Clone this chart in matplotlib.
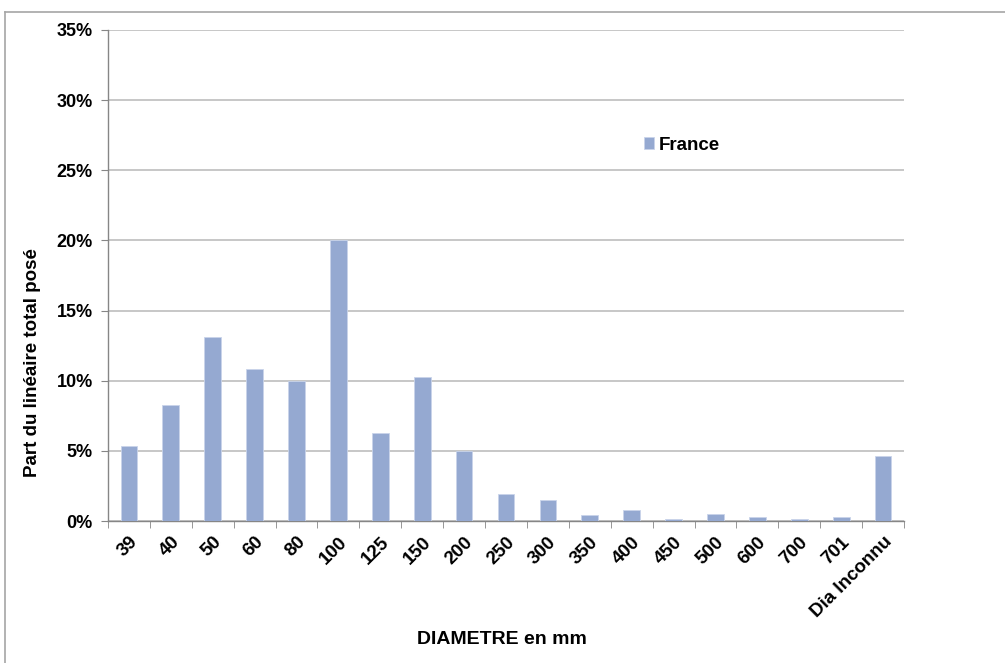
import matplotlib
matplotlib.use("Agg")
import matplotlib.pyplot as plt
from matplotlib.lines import Line2D
from matplotlib.ticker import FixedLocator, FuncFormatter
import numpy as np

categories = ["39", "40", "50", "60", "80", "100", "125", "150", "200", "250",
              "300", "350", "400", "450", "500", "600", "700", "701", "Dia Inconnu"]
france = [5.35, 8.3, 13.1, 10.8, 10.0, 20.0, 6.3, 10.3, 5.0, 1.9,
          1.5, 0.42, 0.76, 0.12, 0.5, 0.25, 0.12, 0.25, 4.62]
y_ticks = [0, 5, 10, 15, 20, 25, 30, 35]

plt.rcParams['font.family'] = ['Liberation Sans', 'DejaVu Sans']

fig = plt.figure(figsize=(10.05, 6.63), dpi=100)
ax = fig.add_axes([108/1005, 1 - 521/663, (904 - 108)/1005, (521 - 30)/663])

x = np.arange(len(categories))
ax.bar(x, france, width=0.4, color='#95a9d1', edgecolor='#c9d4ea', linewidth=0.6,
       label='France', zorder=3)

ax.set_xlim(-0.5, len(categories) - 0.5)
ax.set_ylim(0, 35)
ax.yaxis.set_major_locator(FixedLocator(y_ticks))
ax.yaxis.set_major_formatter(FuncFormatter(lambda v, p: f"{int(v)}%"))
ax.grid(axis='y', color='#bdbdbd', linewidth=1.2, zorder=0)

ax.set_xticks(x)
ax.set_xticklabels(categories, rotation=45, ha='right', rotation_mode='anchor',
                   fontsize=13.5, fontweight='bold')
ax.tick_params(axis='x', which='major', length=0, pad=9)
ax.set_xticks(np.arange(-0.5, len(categories)), minor=True)
ax.tick_params(axis='x', which='minor', length=5, color='#868686', direction='out')
ax.tick_params(axis='y', length=5, color='#868686', direction='out', labelsize=13, pad=6)
for lbl in ax.get_yticklabels():
    lbl.set_fontweight('bold')

for s in ['top', 'right']:
    ax.spines[s].set_visible(False)
for s in ['left', 'bottom']:
    ax.spines[s].set_color('#868686')
    ax.spines[s].set_linewidth(1.0)

fig.text(33/1005, 1 - 363/663, 'Part du linéaire total posé', fontsize=13.5,
         fontweight='bold', rotation=90, ha='center', va='center')
fig.text(502/1005, 1 - 640/663, 'DIAMETRE en mm', fontsize=14, fontweight='bold',
         ha='center', va='center')

leg = ax.legend(loc='center left', bbox_to_anchor=((644 - 108)/796, (521 - 145)/491),
                frameon=False, fontsize=13.5, handlelength=0.55, handleheight=0.55,
                handletextpad=0.25, borderaxespad=0, borderpad=0)
for t in leg.get_texts():
    t.set_fontweight('bold')

# outer chart border
fig.add_artist(Line2D([5/1005, 5/1005], [0, 1 - 12/663], color='#a6a6a6', lw=1.2,
                      transform=fig.transFigure))
fig.add_artist(Line2D([5/1005, 1], [1 - 12/663, 1 - 12/663], color='#a6a6a6', lw=1.2,
                      transform=fig.transFigure))

fig.savefig('out.png', dpi=100, facecolor='white')
